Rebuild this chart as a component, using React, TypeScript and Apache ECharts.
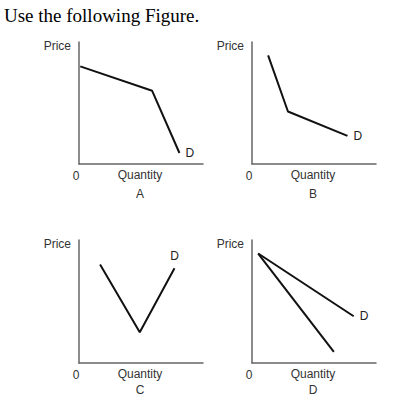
import React, { useEffect, useRef } from "react";
import * as echarts from "echarts";

const panelLetters = ["A", "B", "C", "D"];
const curveA = [[1, 80], [59, 60], [81, 9]];
const curveB = [[13, 89], [29, 43], [77, 23]];
const curveC = [[17, 80], [49, 25], [77, 77]];
const curveD1 = [[5, 89], [82, 38]];
const curveD2 = [[5, 89], [66, 9]];
const titleText = "Use the following Figure.";
const yName = "Price";
const xName = "Quantity";
const originLabel = "0";
const curveLabel = "D";

const grids = [
  { left: 79, top: 42, width: 124, height: 122 },
  { left: 252, top: 42, width: 124, height: 122 },
  { left: 79, top: 240, width: 124, height: 123 },
  { left: 252, top: 240, width: 124, height: 123 },
];

const sansFont = "12px 'Liberation Sans', Arial, sans-serif";

function curveSeries(pts: number[][], position: string, gridIndex: number, labeled: boolean) {
  return {
    type: "line",
    xAxisIndex: gridIndex,
    yAxisIndex: gridIndex,
    symbol: "circle",
    symbolSize: 0,
    showSymbol: true,
    lineStyle: { color: "#111", width: 2 },
    itemStyle: { color: "#111" },
    data: pts.map((p, i) => {
      if (labeled && i === pts.length - 1) {
        return {
          value: p,
          label: {
            show: true,
            position,
            formatter: curveLabel,
            distance: position === "top" ? 6 : 6,
            fontFamily: "Liberation Sans, Arial, sans-serif",
            fontSize: 12,
            color: "#222",
          },
        };
      }
      return { value: p };
    }),
  };
}

export default function App() {
  const ref = useRef<HTMLDivElement>(null);
  useEffect(() => {
    if (!ref.current) return;
    const chart = echarts.init(ref.current, null, { renderer: "svg" });
    const axisLine = { show: true, lineStyle: { color: "#666", width: 1.5 } };
    const makeAxis = (i: number) => ({
      type: "value",
      gridIndex: i,
      min: 0,
      max: 100,
      axisLine,
      axisTick: { show: false },
      axisLabel: { show: false },
      splitLine: { show: false },
    });
    const texts: any[] = [
      {
        type: "text",
        x: 4,
        y: 15,
        style: {
          text: titleText,
          font: "19px 'Liberation Serif', 'Times New Roman', serif",
          fill: "#000",
          verticalAlign: "middle",
        },
      },
    ];
    grids.forEach((g, i) => {
      const bottom = g.top + g.height;
      const cx = g.left + 61;
      texts.push(
        { type: "text", x: g.left - 8, y: g.top + 4, style: { text: yName, fill: "#333", font: sansFont, align: "right", verticalAlign: "middle" } },
        { type: "text", x: g.left - 3, y: bottom + 12, style: { text: originLabel, fill: "#333", font: sansFont, align: "center", verticalAlign: "middle" } },
        { type: "text", x: cx, y: bottom + 11, style: { text: xName, fill: "#333", font: sansFont, align: "center", verticalAlign: "middle" } },
        { type: "text", x: cx, y: Math.min(bottom + 30, 390), style: { text: panelLetters[i], fill: "#333", font: sansFont, align: "center", verticalAlign: "middle" } }
      );
    });
    chart.setOption({
      animation: false,
      backgroundColor: "#fff",
      grid: grids,
      xAxis: grids.map((_, i) => makeAxis(i)),
      yAxis: grids.map((_, i) => makeAxis(i)),
      series: [
        curveSeries(curveA, "right", 0, true),
        curveSeries(curveB, "right", 1, true),
        curveSeries(curveC, "top", 2, true),
        curveSeries(curveD1, "right", 3, true),
        curveSeries(curveD2, "right", 3, false),
      ],
      graphic: texts,
    });
    return () => chart.dispose();
  }, []);
  return (
    <div
      ref={ref}
      style={{ position: "absolute", left: 0, top: 0, width: 406, height: 398, background: "#fff" }}
    />
  );
}
